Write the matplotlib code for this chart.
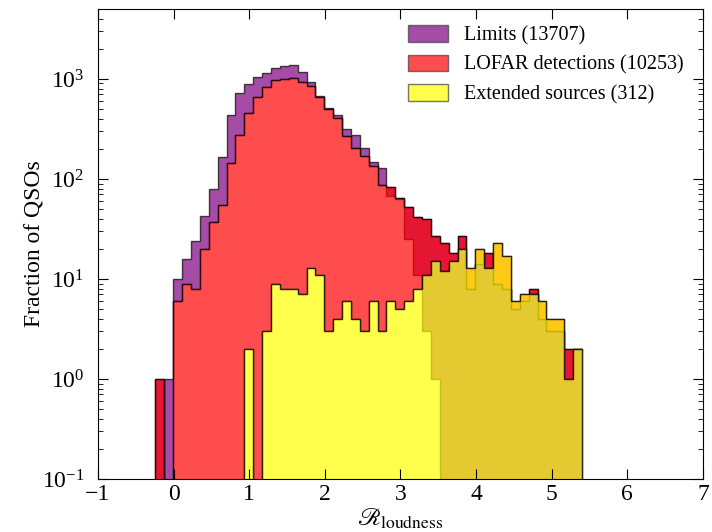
import numpy as np
import matplotlib
matplotlib.use("Agg")
import matplotlib.pyplot as plt
from matplotlib.patches import Patch

plt.rcParams["font.family"] = ["Liberation Serif", "DejaVu Serif"]
plt.rcParams["mathtext.fontset"] = "stix"

# bin edges of the loudness histograms
edges = np.linspace(-0.24, 5.40, 49)

# counts per bin
limits = [0, 1, 10, 16, 24, 43, 79, 165, 437, 720,
          885, 1047, 1146, 1282, 1350, 1380, 1180, 940, 676, 512,
          437, 314, 275, 202, 147, 129, 68, 63, 25, 11,
          3, 1, 0, 0, 0, 0, 0, 0, 0, 0,
          0, 0, 0, 0, 0, 0, 0, 0]
detections = [1, 0, 6, 9, 8, 20, 37, 55, 144, 275,
              460, 666, 822, 977, 1000, 1016, 940, 851, 666, 497,
              409, 267, 202, 171, 135, 86, 83, 64, 53, 42,
              40, 27, 23, 18, 27, 8, 14, 18, 9, 8,
              5, 6, 8, 4, 3, 3, 2, 2]
extended = [0, 0, 0, 0, 0, 0, 0, 0, 0, 0,
            2, 0, 3, 9, 8, 8, 7, 13, 11, 3,
            4, 6, 4, 3, 6, 3, 6, 5, 6, 8,
            11, 15, 12, 15, 20, 13, 20, 13, 23, 17,
            6, 7, 7, 6, 4, 4, 1, 2]

labels = ["Limits (13707)", "LOFAR detections (10253)", "Extended sources (312)"]
colors = ["purple", "red", "yellow"]


def floor(v):
    v = np.asarray(v, dtype=float)
    return np.where(v > 0, v, 1e-3)


fig = plt.figure(figsize=(7.12, 5.32), dpi=100)
ax = fig.add_axes([0.1376, 0.0996, 0.8497, 0.8835])
ax.set_yscale("log")

# each filled step region sits on top of the next histogram (old stepfilled behaviour)
tops = [limits, detections, extended]
bottoms = [detections, extended, np.zeros(len(extended))]
for top, bot, c in zip(tops, bottoms, colors):
    ax.stairs(floor(top), edges, baseline=floor(bot), fill=True,
              facecolor=c, edgecolor="k", lw=1.0, alpha=0.7)

ax.set_xlim(-1, 7)
ax.set_ylim(0.1, 5000)
ax.set_xticks(np.arange(-1, 8, 1))

ax.tick_params(which="both", direction="in", top=True, right=True, labelsize=17)
ax.tick_params(which="major", length=7, width=0.8)
ax.tick_params(which="minor", length=3.5, width=0.6)
ax.tick_params(axis="x", which="minor", bottom=False, top=False)
ax.tick_params(axis="y", which="both", pad=10)

ax.set_ylabel("Fraction of QSOs", fontsize=17, labelpad=-3)
ax.set_xlabel(r"$\mathscr{R}_{\rm loudness}$", fontsize=18, labelpad=1)

handles = [Patch(facecolor=c, edgecolor="0.25", alpha=0.7, lw=1.0) for c in colors]
ax.legend(handles, labels, loc="upper right", frameon=False, fontsize=14.5,
          handlelength=2.0, handleheight=0.9, labelspacing=0.45,
          bbox_to_anchor=(0.998, 1.004))

fig.savefig("out.png", dpi=100)
